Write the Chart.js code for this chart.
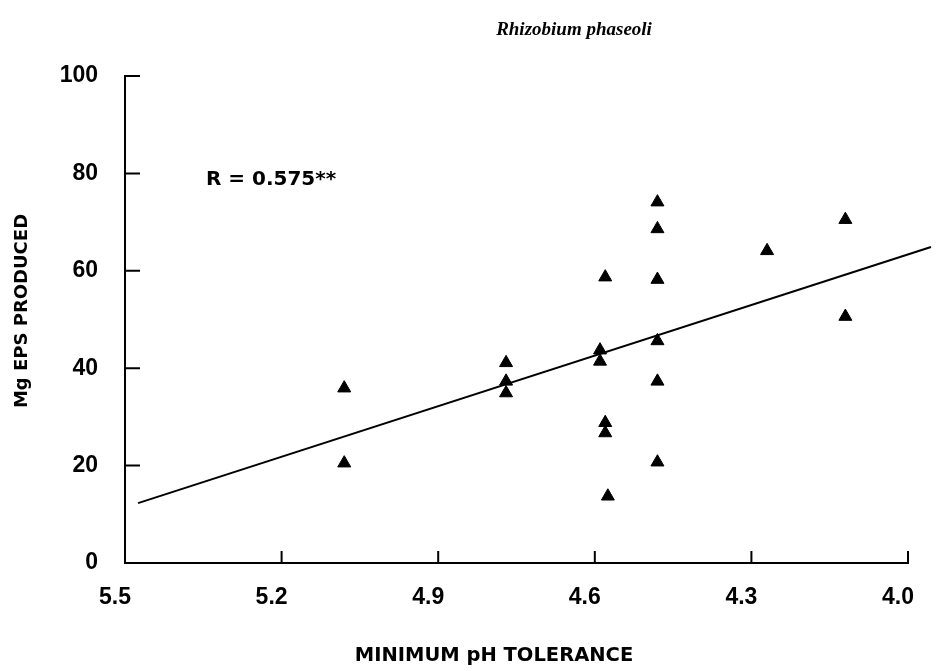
<!DOCTYPE html>
<html>
<head>
<meta charset="utf-8">
<title>Rhizobium phaseoli</title>
<script src="https://cdn.jsdelivr.net/npm/chart.js@4"></script>
<style>
  html, body { margin: 0; padding: 0; background: #fff; }
  #wrap { width: 945px; height: 671px; }
</style>
</head>
<body>
<div id="wrap"><canvas id="chart" width="945" height="671"></canvas></div>
<script>
// minimum pH tolerance of each strain and the EPS it produced (mg)
const phValues = [5.08, 5.08, 4.77, 4.77, 4.77, 4.58, 4.59, 4.59, 4.58, 4.58, 4.575,
  4.48, 4.48, 4.48, 4.48, 4.48, 4.48, 4.27, 4.12, 4.12];
const epsValues = [35.9, 20.5, 41.1, 37.3, 34.9, 58.7, 43.7, 41.4, 28.8, 26.7, 13.7,
  74.1, 68.6, 58.2, 45.6, 37.3, 20.7, 64.1, 70.5, 50.6];

// regression line end points
const trendX = [5.475, 3.956];
const trendY = [12.3, 64.9];

const xTicks = [5.5, 5.2, 4.9, 4.6, 4.3, 4.0];
const yTicks = [0, 20, 40, 60, 80, 100];

const titleText = "Rhizobium phaseoli";
const xTitle = "MINIMUM pH TOLERANCE";
const yTitle = "Mg EPS PRODUCED";
const rText = "R = 0.575**";
const rPos = [5.345, 78.6];

const toPoints = (xs, ys) => xs.map((x, i) => ({ x: x, y: ys[i] }));

// inward tick marks + all the loose text
const decorations = {
  id: "decorations",
  afterDraw(chart) {
    const { ctx, chartArea, scales } = chart;
    const xs = scales.x, ys = scales.y;
    ctx.save();
    ctx.strokeStyle = "#000";
    ctx.lineWidth = 2;
    ctx.beginPath();
    xs.ticks.forEach((t, i) => {
      const px = xs.getPixelForTick(i);
      ctx.moveTo(px, chartArea.bottom);
      ctx.lineTo(px, chartArea.bottom - 12);
    });
    ys.ticks.forEach((t, i) => {
      const py = ys.getPixelForTick(i);
      ctx.moveTo(chartArea.left, py);
      ctx.lineTo(chartArea.left + 15, py);
    });
    ctx.stroke();

    ctx.fillStyle = "#000";
    ctx.textAlign = "center";
    ctx.textBaseline = "alphabetic";
    ctx.font = "italic bold 19px 'Liberation Serif', 'Times New Roman', serif";
    ctx.fillText(titleText, 574, 35);

    ctx.font = "bold 19.5px 'DejaVu Sans', Verdana, sans-serif";
    ctx.textBaseline = "middle";
    ctx.fillText(xTitle, 494, 656);

    ctx.save();
    ctx.translate(22, 311);
    ctx.rotate(-Math.PI / 2);
    ctx.font = "bold 18px 'DejaVu Sans', Verdana, sans-serif";
    ctx.fillText(yTitle, 0, 0);
    ctx.restore();

    ctx.textAlign = "left";
    ctx.font = "bold 20px 'DejaVu Sans', Verdana, sans-serif";
    ctx.fillText(rText, xs.getPixelForValue(rPos[0]), ys.getPixelForValue(rPos[1]));
    ctx.restore();
  }
};

const tickFont = { family: "'Liberation Sans', Arial, sans-serif", size: 23, weight: "bold" };

new Chart(document.getElementById("chart"), {
  type: "scatter",
  data: {
    datasets: [
      {
        data: toPoints(phValues, epsValues),
        pointStyle: "triangle",
        pointRadius: 7.5,
        pointHoverRadius: 7.5,
        backgroundColor: "#000",
        borderColor: "#000",
        borderWidth: 1
      },
      {
        data: toPoints(trendX, trendY),
        showLine: true,
        pointRadius: 0,
        borderColor: "#000",
        borderWidth: 2,
        clip: false
      }
    ]
  },
  options: {
    responsive: false,
    animation: false,
    devicePixelRatio: 1,
    layout: { padding: { top: 76, right: 33, left: 0, bottom: 0 } },
    plugins: { legend: { display: false }, tooltip: { enabled: false } },
    scales: {
      x: {
        type: "linear",
        reverse: true,
        min: 4.0,
        max: 5.5,
        afterBuildTicks: (s) => { s.ticks = xTicks.map((v) => ({ value: v })); },
        afterFit: (s) => { s.height = 108; },
        grid: { display: false, drawTicks: false },
        border: { display: true, color: "#000", width: 2 },
        ticks: {
          color: "#000",
          font: tickFont,
          padding: 21,
          labelOffset: -10,
          maxRotation: 0,
          callback: (v) => Number(v).toFixed(1)
        }
      },
      y: {
        min: 0,
        max: 100,
        afterBuildTicks: (s) => { s.ticks = yTicks.map((v) => ({ value: v })); },
        afterFit: (s) => { s.width = 125; },
        grid: { display: false, drawTicks: false },
        border: { display: true, color: "#000", width: 2 },
        ticks: { color: "#000", font: tickFont, padding: 27 }
      }
    }
  },
  plugins: [decorations]
});
</script>
</body>
</html>
